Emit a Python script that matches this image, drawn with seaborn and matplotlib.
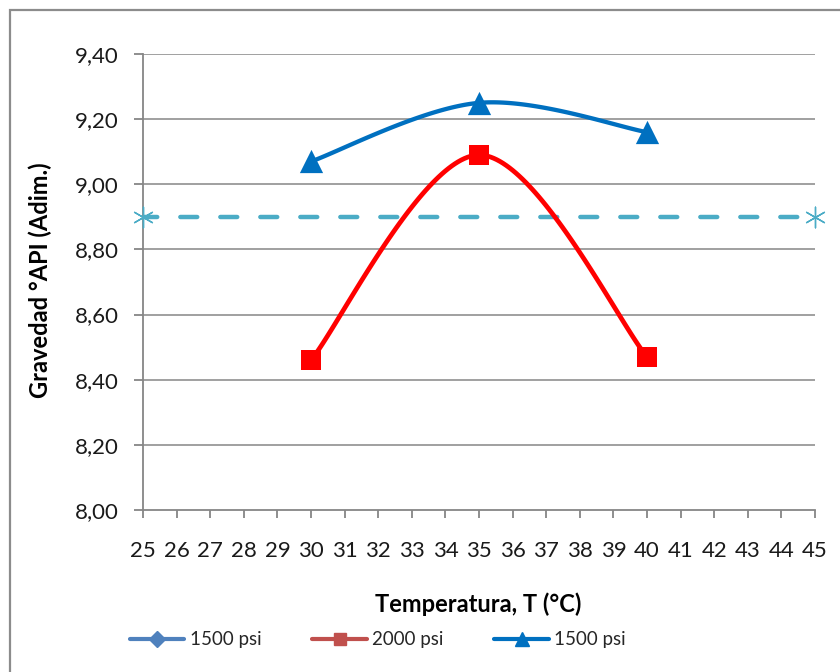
import numpy as np
import pandas as pd
import seaborn as sns
import matplotlib
matplotlib.use("Agg")
import matplotlib.pyplot as plt
from matplotlib.lines import Line2D
from matplotlib.patches import Rectangle

# Temperature categories shown on the x axis
temperatures = list(range(25, 46))

# Measured API gravity at each test temperature
test_temps = [30, 35, 40]
api_2000psi = [8.46, 9.09, 8.47]
api_1500psi = [9.07, 9.25, 9.16]

# Reference gravity line spanning the full temperature range
ref_temps = [25, 45]
ref_api = [8.90, 8.90]

y_ticks = [8.00, 8.20, 8.40, 8.60, 8.80, 9.00, 9.20, 9.40]
legend_labels = ["1500 psi", "2000 psi", "1500 psi"]

C_BLUE = "#0070C0"
C_RED = "#FF0000"
C_DASH = "#4BACC6"
C_GRID = "#868686"


def smooth(xs, ys, n=60):
    """Cubic Bezier smoothing through every point (spreadsheet-style)."""
    pts = np.column_stack([xs, ys]).astype(float)
    m = len(pts)
    out = []
    for i in range(m - 1):
        p0 = pts[max(i - 1, 0)]
        p1 = pts[i]
        p2 = pts[i + 1]
        p3 = pts[min(i + 2, m - 1)]
        c1 = p1 + (p2 - p0) / 6.0
        c2 = p2 - (p3 - p1) / 6.0
        t = np.linspace(0, 1, n)[:, None]
        seg = ((1 - t) ** 3) * p1 + 3 * ((1 - t) ** 2) * t * c1 + 3 * (1 - t) * t ** 2 * c2 + t ** 3 * p2
        out.append(seg if i == 0 else seg[1:])
    seg = np.vstack(out)
    return seg[:, 0], seg[:, 1]


sns.set_theme(style="white")
plt.rcParams["font.family"] = ["Lato", "DejaVu Sans"]

fig = plt.figure(figsize=(8.4, 6.72), dpi=100)
ax = fig.add_axes([143 / 840, 1 - 510 / 672, (815 - 143) / 840, (510 - 54) / 672])

# Chart frame
fig.patches.append(Rectangle((10 / 840, -0.1), 1.2, 1 - 10 / 672 + 0.1,
                             transform=fig.transFigure, fill=False,
                             edgecolor="#8C8C8C", linewidth=1.6, zorder=0))

# Gridlines
for yv in y_ticks[1:]:
    ax.axhline(yv, color=C_GRID, lw=1.1, zorder=1)

# Reference dashed line with star end markers
ax.plot(ref_temps, ref_api, color=C_DASH, lw=3.2, ls=(0.6, (3.8, 5.2)),
        dash_capstyle="round", zorder=3)
ax.scatter(ref_temps, ref_api, marker=(6, 2, 0), s=220, color=C_DASH,
           linewidths=1.0, zorder=4, clip_on=False)

# Smoothed series
sx, sy = smooth(test_temps, api_2000psi)
ax.plot(sx, sy, color=C_RED, lw=3.4, zorder=4, solid_capstyle="round")
bx, by = smooth(test_temps, api_1500psi)
ax.plot(bx, by, color=C_BLUE, lw=3.1, zorder=5, solid_capstyle="round")

df_red = pd.DataFrame({"T": test_temps, "API": api_2000psi})
df_blue = pd.DataFrame({"T": test_temps, "API": api_1500psi})
sns.scatterplot(data=df_red, x="T", y="API", marker="s", s=200, color=C_RED,
                edgecolor=C_RED, linewidth=0, ax=ax, zorder=6)
sns.scatterplot(data=df_blue, x="T", y="API", marker="^", s=280, color=C_BLUE,
                edgecolor=C_BLUE, linewidth=0, ax=ax, zorder=7)

ax.set_xlim(25, 45)
ax.set_ylim(8.0, 9.4)
ax.set_xticks(temperatures)
ax.set_xticklabels([str(t) for t in temperatures])
ax.set_yticks(y_ticks)
ax.set_yticklabels([f"{v:.2f}".replace(".", ",") for v in y_ticks])

for side in ("top", "right"):
    ax.spines[side].set_visible(False)
for side in ("left", "bottom"):
    ax.spines[side].set_color(C_GRID)
    ax.spines[side].set_linewidth(1.3)

ax.tick_params(axis="x", direction="out", length=5.5, width=1.3, color=C_GRID,
               labelsize=16, pad=17, bottom=True)
ax.tick_params(axis="y", direction="out", length=6.5, width=1.3, color=C_GRID,
               labelsize=16, pad=11, left=True)
for lbl in ax.get_xticklabels() + ax.get_yticklabels():
    lbl.set_color("#1a1a1a")

ax.set_xlabel("")
ax.set_ylabel("")
fig.text(478 / 840, 1 - 604 / 672, "Temperatura, T (°C)", ha="center", va="center",
         fontsize=17, fontweight="bold", color="black")
fig.text(40 / 840, 1 - 280 / 672, "Gravedad °API (Adim.)", ha="center", va="center",
         rotation=90, fontsize=17, fontweight="bold", color="black")

handles = [
    Line2D([], [], color="#4F81BD", lw=3, marker="D", markersize=8),
    Line2D([], [], color="#C0504D", lw=3, marker="s", markersize=9),
    Line2D([], [], color=C_BLUE, lw=3, marker="^", markersize=10),
]
fig.legend(handles, legend_labels, loc="center", bbox_to_anchor=(378 / 840, 1 - 640 / 672),
           ncol=3, frameon=False, fontsize=13.5, handlelength=2.9, handletextpad=0.3,
           columnspacing=2.7, borderpad=0, borderaxespad=0)

fig.savefig("out.png", dpi=100)
